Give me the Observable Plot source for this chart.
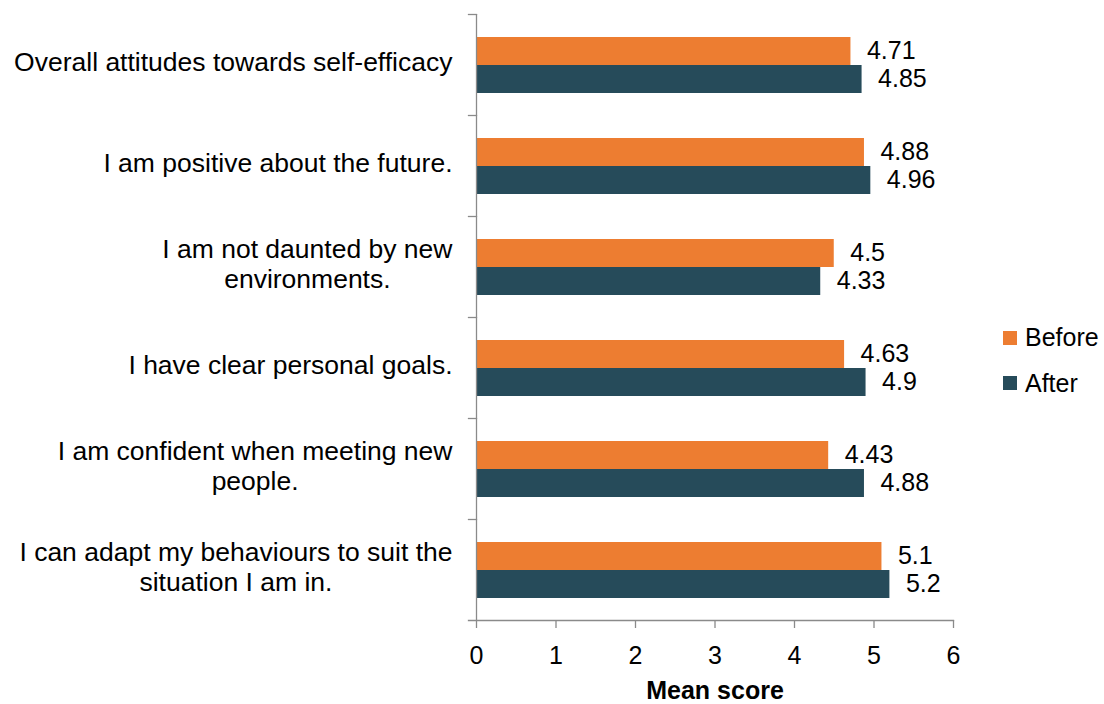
<!DOCTYPE html>
<html><head><meta charset="utf-8">
<script src="https://cdn.jsdelivr.net/npm/d3@7"></script>
<script src="https://cdn.jsdelivr.net/npm/@observablehq/plot@0.6"></script>
<style>
body{margin:0;background:#fff;font-family:"Liberation Sans",Arial,sans-serif;}
#wrap{position:relative;width:1104px;height:704px;}
#legend{position:absolute;left:1003px;top:322px;font-size:25px;color:#000;}
.item{display:flex;align-items:center;height:31px;margin-bottom:14.5px}
.sw{width:14px;height:14px;margin-right:8px}
</style></head><body><div id="wrap"><div id="legend"></div></div>
<script>
const categories = [
  "Overall attitudes towards self-efficacy",
  "I am positive about the future.",
  "I am not daunted by new\nenvironments.",
  "I have clear personal goals.",
  "I am confident when meeting new\npeople.",
  "I can adapt my behaviours to suit the\nsituation I am in."
];
const series = ["Before", "After"];
const before = [4.71, 4.88, 4.5, 4.63, 4.43, 5.1];
const after = [4.85, 4.96, 4.33, 4.9, 4.88, 5.2];
const xTicks = [0, 1, 2, 3, 4, 5, 6];
const colors = ["#ED7D31", "#264B5A"];

const data = categories.flatMap((c, i) => [
  {category: c, series: "Before", value: before[i]},
  {category: c, series: "After", value: after[i]}
]);
const axisColor = "#8a8a8a";

const plot = Plot.plot({
  width: 1104, height: 704,
  marginLeft: 476, marginRight: 151, marginTop: 12, marginBottom: 83,
  style: {fontFamily: "Liberation Sans, Arial, sans-serif", fontSize: "25px", color: "#000", background: "#fff"},
  fy: {domain: categories, padding: 0, axis: null},
  y: {domain: series, paddingInner: 0, paddingOuter: 0.75, axis: null},
  x: {domain: [0, 6], axis: null},
  color: {domain: series, range: colors},
  marks: [
    Plot.barX(data, {x: "value", y: "series", fy: "category", fill: "series"}),
    Plot.text(data, {x: "value", y: "series", fy: "category", text: d => String(d.value), textAnchor: "start", dx: 16, dy: -1, fontSize: 25, fill: "#000"}),
    Plot.ruleX([0], {stroke: axisColor, strokeWidth: 1.3}),
    Plot.frame({anchor: "top", insetLeft: -8, insetRight: 477, stroke: axisColor, strokeWidth: 1.3}),
    Plot.frame({anchor: "bottom", facetAnchor: "bottom", insetLeft: -8, stroke: axisColor, strokeWidth: 1.3}),
    Plot.axisX({ticks: xTicks, tickSize: 8, tickPadding: 18, stroke: axisColor, strokeWidth: 1.3, fill: "#000", tickFormat: d => String(d), label: null, fontSize: 25}),
    Plot.axisX({ticks: [], label: "Mean score", labelAnchor: "center", labelOffset: 78, labelArrow: "none", fontWeight: "bold", fontSize: 25, fill: "#000"}),
    Plot.text(categories, {fy: d => d, text: d => d, frameAnchor: "left", textAnchor: "end", dx: -24, dy: -4, lineHeight: 1.13, fontSize: 26.5, fill: "#000"})
  ]
});

document.getElementById("wrap").appendChild(plot);

// centre the wrapped lines of each category label on its longest line
plot.querySelectorAll("text").forEach(t => {
  const spans = t.querySelectorAll("tspan");
  if (spans.length > 1) {
    const W = Math.max(...[...spans].map(s => s.getComputedTextLength()));
    t.setAttribute("text-anchor", "middle");
    spans.forEach(s => s.setAttribute("x", -W / 2));
  }
});

const legend = document.getElementById("legend");
series.forEach((s, i) => {
  const item = document.createElement("div");
  item.className = "item";
  const sw = document.createElement("span");
  sw.className = "sw";
  sw.style.background = colors[i];
  const lab = document.createElement("span");
  lab.textContent = s;
  item.appendChild(sw);
  item.appendChild(lab);
  legend.appendChild(item);
});
</script>
</body></html>
